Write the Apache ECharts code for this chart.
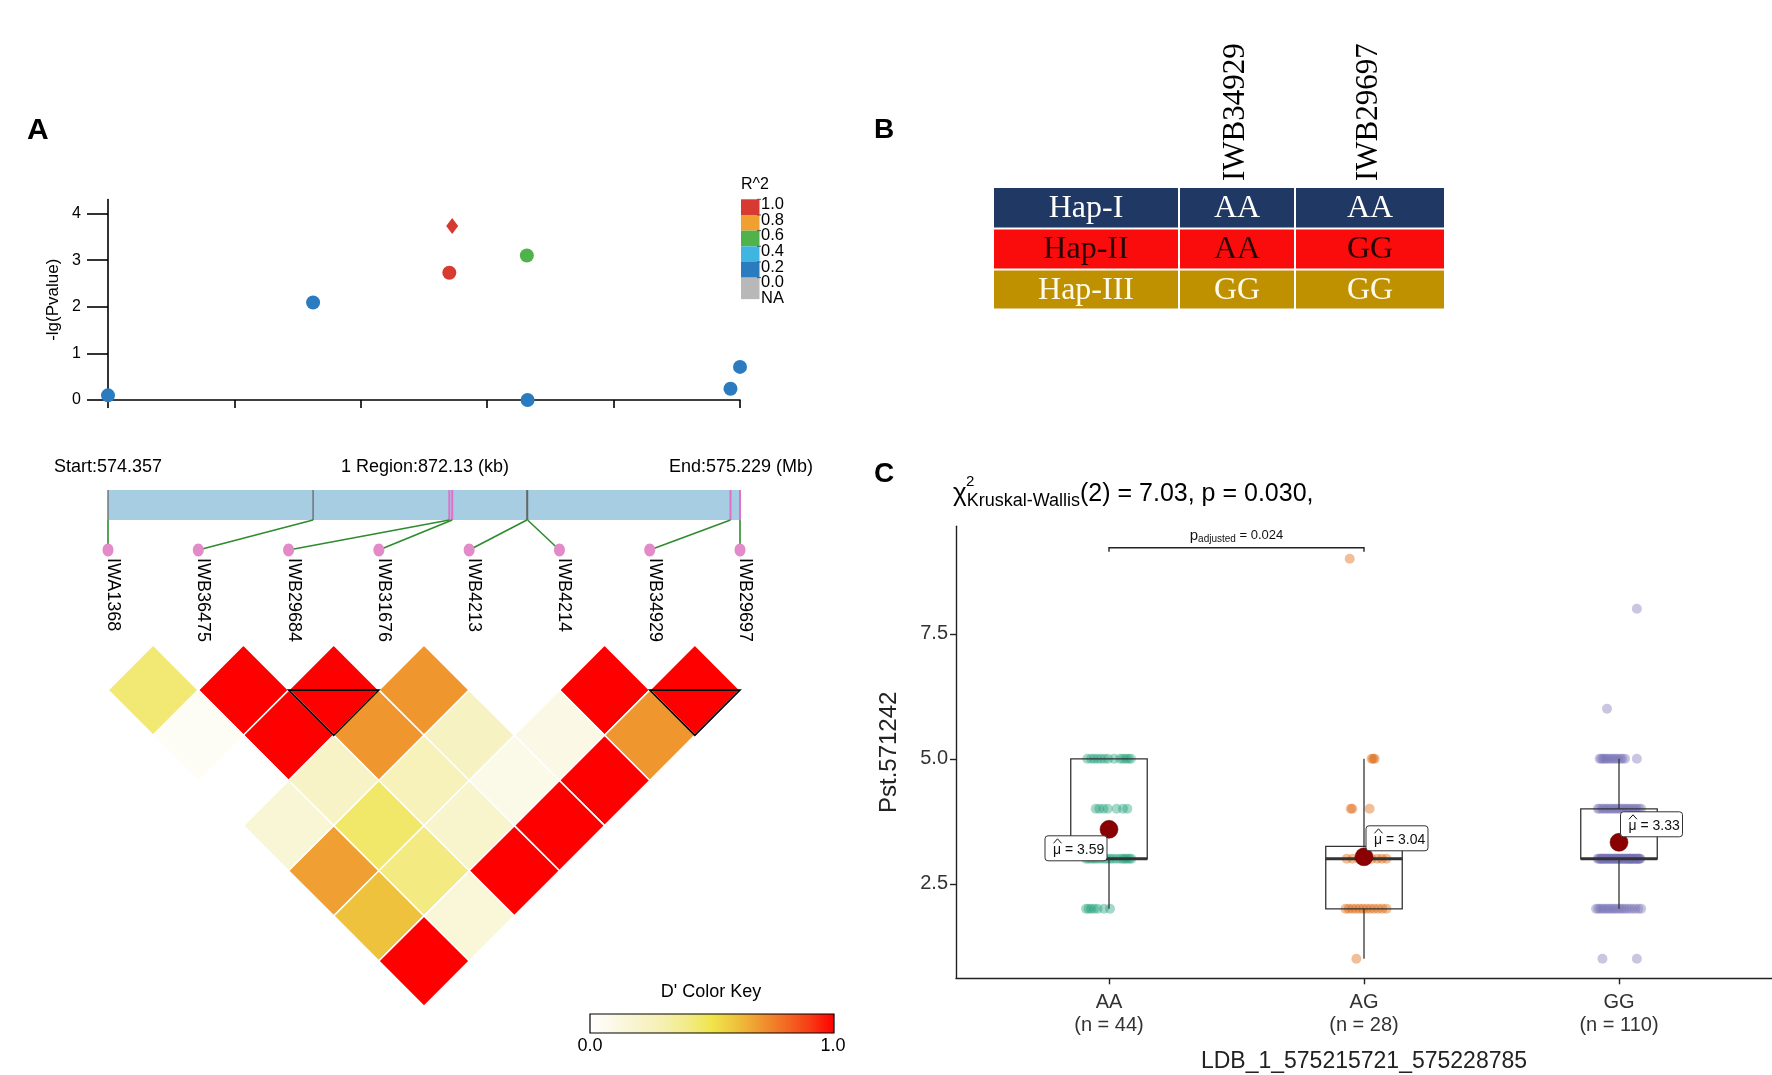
<!DOCTYPE html>
<html><head><meta charset="utf-8">
<script src="https://cdn.jsdelivr.net/npm/echarts@6/dist/echarts.min.js"></script>
<style>html,body{margin:0;padding:0;background:#fff}#c{width:1772px;height:1075px}</style>
</head><body><div id="c"></div><script>
// ---------------- DATA ----------------
const snpNames = ['IWA1368','IWB36475','IWB29684','IWB31676','IWB4213','IWB4214','IWB34929','IWB29697'];
const snpPosKb = [0, 283, 471, 475, 578, 579, 859, 872.13];
const snpLogP  = [0.1, 2.09, 2.73, 3.73, 3.1, 0.0, 0.24, 0.71];
const snpR2    = [0.1, 0.1, 0.9, 1.0, 0.5, 0.1, 0.1, 0.1];
const leadSnp = 3;
const inBlock = [0,0,1,1,0,0,1,1];
const regionStartMb = '574.357', regionEndMb = '575.229', regionKb = 872.13;
const scatterXTicks = [0, 174.426, 348.852, 523.278, 697.704, 872.13];
const scatterYTicks = [0, 1, 2, 3, 4];
const r2Labels = ['1.0','0.8','0.6','0.4','0.2','0.0','NA'];
const r2Colors = ['#d63a31','#efa030','#4fb24b','#3fb6df','#2b7bc0','#b8b8b8'];
// LD D' pairs [i, j, D']
const ldPairs = [
  [0,1,0.43],[1,2,1],[2,3,1],[3,4,0.7],[4,5,0.0],[5,6,1],[6,7,1],
  [0,2,0.04],[1,3,1],[2,4,0.7],[3,5,0.24],[4,6,0.1],[5,7,0.7],
  [0,3,0.0],[1,4,0.22],[2,5,0.27],[3,6,0.09],[4,7,1],
  [0,4,0.16],[1,5,0.45],[2,6,0.2],[3,7,1],
  [0,5,0.68],[1,6,0.41],[2,7,1],
  [0,6,0.6],[1,7,0.15],
  [0,7,1]
];
const haploBlocks = [[2,3],[6,7]];
const ldColors = ['#ffffff','#fbf9e6','#f8f4cc','#f6f0b2','#f3eb88','#efe54a','#eec23c','#f0962f','#f26a24','#f83b14','#ff0000'];
const keyLabels = ['0.0','1.0'];
// Panel B
const haps = ['Hap-I','Hap-II','Hap-III'];
const hapSnps = ['IWB34929','IWB29697'];
const hapGenotypes = [['AA','AA'],['AA','GG'],['GG','GG']];
const hapColors = ['#1f3864','#fa0c0c','#bf9000'];
const hapTextColors = ['#ffffff','#2a0505','#fffbe8'];
// Panel C
const cats = ['AA','AG','GG'];
const groupN = [44, 28, 110];
const groupColors = ['#1b9e77','#d95f02','#7570b3'];
const boxStats = [[2,3,3,5,5],[1,2,3,3.25,5],[2,3,3,4,5]]; // lowWhisker,Q1,median,Q3,highWhisker
const groupMeans = [3.59, 3.04, 3.33];
const yTicksC = [2.5, 5.0, 7.5];
const aaJitter = [
 [-0.085,5],[-0.07,5],[-0.058,5],[-0.045,5],[-0.032,5],[-0.018,5],[-0.004,5],[0.02,5],[0.044,5],[0.055,5],[0.066,5],[0.076,5],[0.086,5],
 [-0.052,4],[-0.038,4],[-0.022,4],[-0.005,4],[0.03,4],[0.055,4],[0.072,4],
 [-0.09,3],[-0.08,3],[-0.068,3],[-0.058,3],[-0.047,3],[-0.034,3],[-0.02,3],[-0.008,3],[0.004,3],[0.016,3],[0.03,3],[0.044,3],[0.055,3],[0.062,3],[0.071,3],[0.08,3],[0.088,3],
 [-0.09,2],[-0.08,2],[-0.07,2],[-0.058,2],[-0.045,2],[-0.02,2],[0.004,2]
];
const agJitter = [
 [-0.056,9],
 [0.03,5],[0.036,5],[0.042,5],
 [-0.052,4],[-0.046,4],[0.022,4],
 [-0.068,3],[-0.045,3],[-0.02,3],[0.005,3],[0.03,3],[0.052,3],[0.07,3],[0.088,3],
 [-0.072,2],[-0.06,2],[-0.046,2],[-0.032,2],[-0.018,2],[-0.004,2],[0.01,2],[0.025,2],[0.04,2],[0.056,2],[0.072,2],[0.088,2],
 [-0.03,1]
];
const ggJitter = [
 [0.07,8],[-0.047,6],
 [-0.076,5],[-0.07,5],[-0.063,5],[-0.057,5],[-0.05,5],[-0.043,5],[-0.035,5],[-0.027,5],[-0.019,5],[-0.011,5],[-0.003,5],[0.006,5],[0.014,5],[0.024,5],[0.07,5],
 [-0.083,4],[-0.076,4],[-0.066,4],[-0.06,4],[-0.05,4],[-0.044,4],[-0.034,4],[-0.028,4],[-0.018,4],[-0.011,4],[-0.002,4],[0.006,4],[0.013,4],[0.022,4],[0.03,4],[0.036,4],[0.046,4],[0.053,4],[0.062,4],[0.069,4],[0.079,4],[0.087,4],
 [-0.084,3],[-0.079,3],[-0.075,3],[-0.07,3],[-0.066,3],[-0.062,3],[-0.058,3],[-0.053,3],[-0.05,3],[-0.046,3],[-0.043,3],[-0.039,3],[-0.035,3],[-0.031,3],[-0.027,3],[-0.024,3],[-0.02,3],[-0.017,3],[-0.013,3],[-0.009,3],[-0.006,3],[-0.002,3],[0.001,3],[0.005,3],[0.009,3],[0.012,3],[0.016,3],[0.02,3],[0.023,3],[0.027,3],[0.03,3],[0.034,3],[0.038,3],[0.041,3],[0.045,3],[0.048,3],[0.052,3],[0.055,3],[0.059,3],[0.062,3],[0.066,3],[0.069,3],[0.072,3],[0.075,3],[0.078,3],[0.081,3],[0.084,3],[-0.068,3],[0.044,3],
 [-0.09,2],[-0.082,2],[-0.074,2],[-0.066,2],[-0.058,2],[-0.049,2],[-0.041,2],[-0.033,2],[-0.024,2],[-0.016,2],[-0.007,2],[0.002,2],[0.011,2],[0.02,2],[0.03,2],[0.041,2],[0.052,2],[0.064,2],[0.076,2],[0.087,2],
 [-0.065,1],[0.07,1]
];
const jitters = [aaJitter, agJitter, ggJitter];

// ---------------- LAYOUT / STYLE ----------------
const SANS = '"Liberation Sans", Arial, Helvetica, sans-serif';
const SERIF = '"Liberation Serif", "Times New Roman", serif';
const BAR_TOP = -1.716, BAR_BOT = -1.384, DOT_D = -1.052;
const meanLabelOffsets = [[-33, 19], [33, -18.5], [32.5, -18]];
const LABEL_W = 62, LABEL_H = 25;

const chart = echarts.init(document.getElementById('c'));

function txt(x, y, text, opt) {
  return Object.assign({type:'text', x:x, y:y, style:Object.assign({text:text, fill:'#000', fontFamily:SANS, fontSize:18,
    align:'left', verticalAlign:'middle', textAlign:'left', textVerticalAlign:'middle'}, opt && opt.style)}, opt && opt.el);
}

const graphics = [];
// panel letters
graphics.push(txt(27, 131, 'A', {style:{fontSize:30, fontWeight:'bold'}}));
graphics.push(txt(874, 130, 'B', {style:{fontSize:28, fontWeight:'bold'}}));
graphics.push(txt(874, 474, 'C', {style:{fontSize:28, fontWeight:'bold'}}));
// region header
graphics.push(txt(54, 467, 'Start:' + regionStartMb, {style:{fontSize:18}}));
graphics.push(txt(425, 467, '1 Region:' + regionKb + ' (kb)', {style:{fontSize:18, align:'center', textAlign:'center'}}));
graphics.push(txt(813, 467, 'End:' + regionEndMb + ' (Mb)', {style:{fontSize:18, align:'right', textAlign:'right'}}));
// R^2 legend
graphics.push(txt(741, 185, 'R^2', {style:{fontSize:16}}));
const boxH = 15.67;
r2Colors.forEach((c, i) => {
  const h = i === r2Colors.length - 1 ? 21.5 : boxH;
  graphics.push({type:'rect', shape:{x:741, y:199.3 + i*boxH, width:18.5, height:h}, style:{fill:c}});
});
r2Labels.forEach((l, i) => {
  graphics.push(txt(761, 204.5 + i*boxH, l, {style:{fontSize:16.5}}));
  if (i < r2Labels.length - 1) graphics.push({type:'line', shape:{x1:757, y1:199.3 + i*boxH, x2:761, y2:199.3 + i*boxH}, style:{stroke:'#555', lineWidth:1}});
});
// D' colour key
graphics.push(txt(711, 992, "D' Color Key", {style:{fontSize:18, align:'center', textAlign:'center'}}));
graphics.push({type:'rect', shape:{x:590, y:1014, width:244, height:19}, style:{
  fill:new echarts.graphic.LinearGradient(0,0,1,0, ldColors.map((c,i)=>({offset:i/(ldColors.length-1), color:c}))),
  stroke:'#000', lineWidth:1.2}});
graphics.push(txt(590, 1046, keyLabels[0], {style:{fontSize:18, align:'center', textAlign:'center'}}));
graphics.push(txt(833, 1046, keyLabels[1], {style:{fontSize:18, align:'center', textAlign:'center'}}));
// Panel B table
const colEdges = [[994,1178],[1180,1294],[1296,1444]];
const rowEdges = [[188,227.5],[229.5,268.5],[270.5,308.5]];
haps.forEach((h, r) => {
  [h].concat(hapGenotypes[r]).forEach((t, c) => {
    graphics.push({type:'rect', shape:{x:colEdges[c][0], y:rowEdges[r][0], width:colEdges[c][1]-colEdges[c][0], height:rowEdges[r][1]-rowEdges[r][0]}, style:{fill:hapColors[r]}});
    graphics.push(txt((colEdges[c][0]+colEdges[c][1])/2, (rowEdges[r][0]+rowEdges[r][1])/2 + 1, t,
      {style:{fontSize:32, fontFamily:SERIF, fill:hapTextColors[r], align:'center', textAlign:'center'}}));
  });
});
hapSnps.forEach((s, c) => {
  graphics.push(txt((colEdges[c+1][0]+colEdges[c+1][1])/2 - 1, 181, s,
    {style:{fontSize:31, fontFamily:SERIF}, el:{rotation:Math.PI/2}}));
});
// Panel C title
graphics.push(txt(953, 494, '{c|χ}{s|Kruskal-Wallis}{m|(2) = 7.03, p = 0.030,}', {style:{
  rich:{c:{fontSize:26, fontFamily:SANS, fill:'#000'}, s:{fontSize:18, fontFamily:SANS, fill:'#000', padding:[14,0,0,0]}, m:{fontSize:25, fontFamily:SANS, fill:'#000'}}}}));
graphics.push(txt(966, 482, '2', {style:{fontSize:15}}));

const option = {
  animation: false,
  backgroundColor: '#ffffff',
  textStyle: {fontFamily: SANS},
  graphic: {elements: graphics},
  grid: [
    {left:108, top:199.5, width:632, height:200.5},
    {left:108, top:464.4, width:632, height:541.8},
    {left:956, right:0, top:526.3, height:452}
  ],
  visualMap: [
    {type:'piecewise', show:false, seriesIndex:0, dimension:2, pieces:[
      {gte:0.8, lte:1, color:r2Colors[0]}, {gte:0.6, lt:0.8, color:r2Colors[1]}, {gte:0.4, lt:0.6, color:r2Colors[2]},
      {gte:0.2, lt:0.4, color:r2Colors[3]}, {gte:0, lt:0.2, color:r2Colors[4]}]},
    {type:'continuous', show:false, seriesIndex:3, dimension:2, min:0, max:1, inRange:{color:ldColors}}
  ],
  xAxis: [
    {gridIndex:0, type:'value', min:0, max:regionKb,
      axisLine:{show:true, lineStyle:{color:'#000', width:1.6}},
      axisTick:{show:true, length:8, customValues:scatterXTicks, lineStyle:{color:'#000', width:1.6}},
      axisLabel:{show:false}, splitLine:{show:false}},
    {gridIndex:1, type:'value', min:0, max:regionKb, show:false, position:'top'},
    {gridIndex:1, type:'value', min:0, max:snpNames.length-1, show:false, position:'bottom'},
    {gridIndex:2, type:'value', min:0.4, max:3.6,
      name:'LDB_1_575215721_575228785', nameLocation:'middle', nameGap:72,
      nameTextStyle:{fontSize:23, color:'#222', fontFamily:SANS},
      axisLine:{show:true, lineStyle:{color:'#222', width:1.4}},
      axisTick:{show:true, length:6, customValues:[1,2,3], lineStyle:{color:'#222', width:1.4}},
      axisLabel:{customValues:[1,2,3], fontSize:20, color:'#333', lineHeight:23, margin:13,
        formatter: v => cats[Math.round(v)-1] + '\n(n = ' + groupN[Math.round(v)-1] + ')'},
      splitLine:{show:false}}
  ],
  yAxis: [
    {gridIndex:0, type:'value', min:0, max:4.3,
      name:'-lg(Pvalue)', nameLocation:'middle', nameRotate:90, nameGap:46,
      nameTextStyle:{fontSize:17, color:'#000', fontFamily:SANS},
      axisLine:{show:true, lineStyle:{color:'#000', width:1.6}},
      axisTick:{show:true, length:21, customValues:scatterYTicks, lineStyle:{color:'#000', width:1.6}},
      axisLabel:{customValues:scatterYTicks, fontSize:16, color:'#000', margin:27},
      splitLine:{show:false}},
    {gridIndex:1, type:'value', min:-2, max:4, inverse:true, show:false},
    {gridIndex:2, type:'value', min:0.61, max:9.65,
      name:'Pst.571242', nameLocation:'middle', nameRotate:90, nameGap:55,
      nameTextStyle:{fontSize:24, color:'#222', fontFamily:SANS},
      axisLine:{show:true, lineStyle:{color:'#222', width:1.4}},
      axisTick:{show:true, length:6, customValues:yTicksC, lineStyle:{color:'#222', width:1.4}},
      axisLabel:{customValues:yTicksC, fontSize:20, color:'#333', margin:8, formatter: v => v.toFixed(1)},
      splitLine:{show:false}}
  ],
  series: [
    // 0 association scatter
    {type:'scatter', xAxisIndex:0, yAxisIndex:0, clip:false, z:4, itemStyle:{opacity:1},
      data: snpNames.map((n,k) => ({name:n, value:[snpPosKb[k], snpLogP[k], snpR2[k]],
        symbol: k === leadSnp ? 'diamond' : 'circle', symbolSize: k === leadSnp ? [12,16] : 14}))},
    // 1 region bar with SNP position marks
    {type:'custom', xAxisIndex:1, yAxisIndex:1, z:2,
      data: snpPosKb.map((p,k) => [p, inBlock[k]]),
      renderItem: (params, api) => {
        const x = api.value(0), blk = api.value(1);
        const p0 = api.coord([x, BAR_TOP]), p1 = api.coord([x, BAR_BOT]);
        const ch = [];
        if (params.dataIndex === 0) {
          const a = api.coord([0, BAR_TOP]), b = api.coord([regionKb, BAR_BOT]);
          ch.push({type:'rect', shape:{x:a[0], y:a[1], width:b[0]-a[0], height:b[1]-a[1]}, style:{fill:'#a6cde2'}});
        }
        ch.push({type:'line', shape:{x1:p0[0], y1:p0[1], x2:p1[0], y2:p1[1]},
          style:{stroke: blk ? '#e070c8' : '#666666', lineWidth: blk ? 2 : 1.3}});
        return {type:'group', children:ch};
      }},
    // 2 connectors, SNP dots and names
    {type:'custom', xAxisIndex:2, yAxisIndex:1, z:3,
      data: snpNames.map((n,k) => [k, snpPosKb[k]]),
      renderItem: (params, api) => {
        const k = api.value(0), pos = api.value(1);
        const top = api.coord([pos / regionKb * (snpNames.length - 1), BAR_BOT]);
        const dot = api.coord([k, DOT_D]);
        return {type:'group', children:[
          {type:'line', shape:{x1:top[0], y1:top[1], x2:dot[0], y2:dot[1]}, style:{stroke:'#2e8b2e', lineWidth:1.6}},
          {type:'ellipse', shape:{cx:dot[0], cy:dot[1], rx:5.5, ry:6.5}, style:{fill:'#e38ac8'}},
          {type:'text', x:dot[0] + 5, y:dot[1] + 8, rotation:-Math.PI/2,
            style:{text:snpNames[k], fontSize:18, fontFamily:SANS, fill:'#000', align:'left', verticalAlign:'middle', textAlign:'left', textVerticalAlign:'middle'}}
        ]};
      }},
    // 3 LD diamonds
    {type:'custom', xAxisIndex:2, yAxisIndex:1, z:2,
      data: ldPairs,
      renderItem: (params, api) => {
        const i = api.value(0), j = api.value(1);
        const cx = (i + j) / 2, cy = (j - i) / 2;
        const pts = [[cx, cy-0.5],[cx+0.5, cy],[cx, cy+0.5],[cx-0.5, cy]].map(p => api.coord(p));
        return {type:'polygon', shape:{points:pts}, style:{fill:api.visual('color'), stroke:'#ffffff', lineWidth:1.5}};
      }},
    // 4 haplotype block outlines
    {type:'custom', xAxisIndex:2, yAxisIndex:1, z:3,
      data: haploBlocks,
      renderItem: (params, api) => {
        const a = api.value(0), b = api.value(1);
        const pts = [[a, 0.5],[b, 0.5],[(a+b)/2, 0.5 + (b-a)/2]].map(p => api.coord(p));
        return {type:'polygon', shape:{points:pts}, style:{fill:'none', stroke:'#000', lineWidth:1.6}};
      }},
    // 5-7 jittered points
    ...jitters.map((arr, g) => ({type:'scatter', xAxisIndex:3, yAxisIndex:2, z:2, symbolSize:10,
      itemStyle:{color:groupColors[g], opacity:0.4},
      data: arr.map(d => [g + 1 + d[0], d[1]])})),
    // 8 box plots
    {type:'custom', xAxisIndex:3, yAxisIndex:2, z:3,
      data: boxStats.map((s, g) => [g + 1].concat(s)),
      renderItem: (params, api) => {
        const x = api.value(0), lo = api.value(1), q1 = api.value(2), med = api.value(3), q3 = api.value(4), hi = api.value(5);
        const hw = 0.15;
        const tl = api.coord([x - hw, q3]), br = api.coord([x + hw, q1]);
        const pLo = api.coord([x, lo]), pQ1 = api.coord([x, q1]), pQ3 = api.coord([x, q3]), pHi = api.coord([x, hi]);
        const mL = api.coord([x - hw, med]), mR = api.coord([x + hw, med]);
        const ls = {stroke:'#333', lineWidth:1.3};
        return {type:'group', children:[
          {type:'line', shape:{x1:pLo[0], y1:pLo[1], x2:pQ1[0], y2:pQ1[1]}, style:ls},
          {type:'line', shape:{x1:pQ3[0], y1:pQ3[1], x2:pHi[0], y2:pHi[1]}, style:ls},
          {type:'rect', shape:{x:tl[0], y:tl[1], width:br[0]-tl[0], height:br[1]-tl[1]}, style:{fill:'none', stroke:'#333', lineWidth:1.3}},
          {type:'line', shape:{x1:mL[0], y1:mL[1], x2:mR[0], y2:mR[1]}, style:{stroke:'#333', lineWidth:3}}
        ]};
      }},
    // 9 mean points
    {type:'scatter', xAxisIndex:3, yAxisIndex:2, z:4, symbolSize:18,
      itemStyle:{color:'#8b0000', opacity:1, borderColor:'#5a0000', borderWidth:0.5},
      data: groupMeans.map((m, g) => [g + 1, m])},
    // 10 mean labels (mu-hat)
    {type:'custom', xAxisIndex:3, yAxisIndex:2, z:6,
      data: groupMeans.map((m, g) => [g + 1, m, g]),
      renderItem: (params, api) => {
        const p = api.coord([api.value(0), api.value(1)]);
        const off = meanLabelOffsets[api.value(2)];
        const cx = p[0] + off[0], cy = p[1] + off[1];
        const x0 = cx - LABEL_W / 2, y0 = cy - LABEL_H / 2;
        const mx = x0 + 12.5;
        return {type:'group', children:[
          {type:'rect', shape:{x:x0, y:y0, width:LABEL_W, height:LABEL_H, r:3}, style:{fill:'#fff', stroke:'#333', lineWidth:1}},
          {type:'text', x:x0 + 8, y:cy + 2, style:{text:'\u03BC = ' + api.value(1).toFixed(2), fontSize:14, fontFamily:SANS, fill:'#111',
            align:'left', verticalAlign:'middle', textAlign:'left', textVerticalAlign:'middle'}},
          {type:'polyline', shape:{points:[[mx - 4, cy - 5], [mx, cy - 9.5], [mx + 4, cy - 5]]}, style:{stroke:'#111', lineWidth:1, fill:'none'}}
        ]};
      }},
    // 11 significance bracket
    {type:'custom', xAxisIndex:3, yAxisIndex:2, z:4,
      data: [[1, 2, 9.22]],
      renderItem: (params, api) => {
        const a = api.value(0), b = api.value(1), y = api.value(2);
        const p1 = api.coord([a, y - 0.08]), p2 = api.coord([a, y]), p3 = api.coord([b, y]), p4 = api.coord([b, y - 0.08]);
        const mid = api.coord([(a + b) / 2, y]);
        return {type:'group', children:[
          {type:'polyline', shape:{points:[p1, p2, p3, p4]}, style:{stroke:'#222', lineWidth:1.4, fill:'none'}},
          {type:'text', x:mid[0], y:mid[1] - 4, style:{text:'{p|p}{s|adjusted}{m| = 0.024}',
            align:'center', verticalAlign:'bottom', textAlign:'center', textVerticalAlign:'bottom',
            rich:{p:{fontSize:15, fill:'#111'}, s:{fontSize:10, fill:'#111', padding:[6,0,0,0]}, m:{fontSize:13, fill:'#111'}}}}
        ]};
      }}
  ]
};
chart.setOption(option);
</script></body></html>
